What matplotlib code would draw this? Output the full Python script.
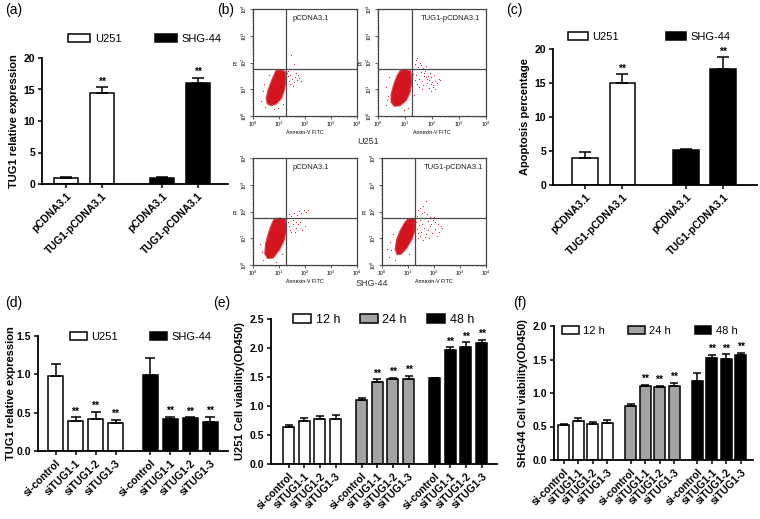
import numpy as np
import matplotlib
matplotlib.use('Agg')
import matplotlib.pyplot as plt
from matplotlib.patches import Polygon
from matplotlib.ticker import LogLocator, NullFormatter

plt.rcParams['font.family'] = ['Liberation Sans', 'DejaVu Sans']

# ---------------- data ----------------
# (a) TUG1 overexpression
a_labels = ['pCDNA3.1', 'TUG1-pCDNA3.1']
a_u251 = [1.0, 14.5]
a_u251_err = [0.15, 0.9]
a_shg44 = [1.0, 16.0]
a_shg44_err = [0.12, 0.9]
a_stars = [False, True]

# (c) apoptosis percentage
c_u251 = [4.0, 15.0]
c_u251_err = [0.8, 1.3]
c_shg44 = [5.2, 17.0]
c_shg44_err = [0.1, 1.8]

# (d) TUG1 knockdown
si_labels = ['si-control', 'siTUG1-1', 'siTUG1-2', 'siTUG1-3']
si_stars = [False, True, True, True]
d_u251 = [0.98, 0.39, 0.42, 0.36]
d_u251_err = [0.15, 0.05, 0.09, 0.05]
d_shg44 = [0.99, 0.42, 0.43, 0.38]
d_shg44_err = [0.22, 0.03, 0.01, 0.07]

# (e) U251 viability
e_12h = [0.64, 0.75, 0.77, 0.78]
e_12h_err = [0.03, 0.05, 0.05, 0.06]
e_24h = [1.11, 1.42, 1.46, 1.46]
e_24h_err = [0.02, 0.04, 0.03, 0.06]
e_48h = [1.48, 1.96, 2.02, 2.09]
e_48h_err = [0.01, 0.05, 0.08, 0.05]

# (f) SHG44 viability
f_12h = [0.52, 0.58, 0.53, 0.55]
f_12h_err = [0.02, 0.04, 0.03, 0.04]
f_24h = [0.81, 1.10, 1.09, 1.10]
f_24h_err = [0.03, 0.02, 0.02, 0.05]
f_48h = [1.18, 1.52, 1.51, 1.56]
f_48h_err = [0.12, 0.05, 0.07, 0.04]

# (b) flow cytometry, positions in decades (log10)
gate_x = 1.27
gate_y = 1.74
tl_core = [(0.88, 1.70), (1.08, 1.73), (1.25, 1.66), (1.27, 1.35), (1.22, 1.00), (1.10, 0.65),
           (0.90, 0.45), (0.70, 0.38), (0.55, 0.45), (0.50, 0.65), (0.58, 0.98), (0.72, 1.35)]
tl_dots_x = [1.33, 1.38, 1.44, 1.50, 1.56, 1.62, 1.68, 1.76, 1.84, 1.47, 1.58, 1.41, 1.72, 1.52, 1.64,
             0.30, 0.38, 0.95, 0.62, 1.30, 1.36, 0.45, 0.42, 0.80, 1.15]
tl_dots_y = [1.48, 1.32, 1.55, 1.40, 1.28, 1.45, 1.36, 1.42, 1.30, 2.27, 1.94, 1.18, 1.52, 1.12, 1.60,
             0.55, 0.95, 0.30, 1.55, 1.62, 1.70, 0.35, 1.20, 0.28, 0.45]
tr_core = [(0.83, 1.71), (1.02, 1.74), (1.22, 1.68), (1.25, 1.25), (1.18, 0.85), (1.05, 0.58),
           (0.82, 0.38), (0.60, 0.36), (0.48, 0.52), (0.48, 0.80), (0.58, 1.18), (0.70, 1.50)]
tr_dots_x = [1.36, 1.42, 1.48, 1.55, 1.60, 1.66, 1.72, 1.78, 1.85, 1.90, 1.95, 2.02, 2.10, 2.18, 2.25,
             1.40, 1.52, 1.63, 1.70, 1.80, 1.88, 1.98, 2.05, 2.12, 1.45, 1.58, 1.75, 1.92, 2.00, 1.38,
             1.50, 1.68, 1.83, 2.08, 2.20, 1.44, 1.62, 1.77, 1.95, 2.30, 0.30, 0.36, 0.28, 0.40, 0.95,
             1.10, 0.33, 1.30, 1.33]
tr_dots_y = [1.95, 2.10, 1.85, 2.00, 1.90, 1.78, 1.60, 1.45, 1.50, 1.35, 1.20, 1.10, 1.30, 1.25, 1.40,
             1.55, 1.40, 1.30, 1.48, 1.25, 1.05, 1.45, 1.15, 1.00, 1.20, 1.65, 1.70, 1.62, 1.28, 1.35,
             1.10, 1.15, 1.38, 1.52, 1.22, 2.15, 1.02, 1.88, 0.95, 1.33, 0.40, 0.75, 1.10, 1.45, 0.22,
             0.30, 0.58, 1.58, 0.80]
bl_core = [(0.80, 1.71), (1.02, 1.76), (1.25, 1.72), (1.29, 1.35), (1.20, 0.92), (1.03, 0.58),
           (0.78, 0.26), (0.56, 0.24), (0.45, 0.42), (0.48, 0.80), (0.60, 1.22), (0.70, 1.50)]
bl_dots_x = [1.35, 1.40, 1.46, 1.52, 1.58, 1.64, 1.70, 1.78, 1.86, 1.95, 2.05, 2.13, 1.43, 1.55,
             1.66, 1.74, 1.90, 2.00, 1.48, 1.60, 1.82, 1.38, 0.35, 0.28, 0.90, 0.40, 1.10]
bl_dots_y = [1.62, 1.45, 1.85, 1.70, 1.95, 1.60, 1.88, 2.02, 1.95, 2.07, 2.00, 2.05, 1.30, 1.52,
             1.40, 1.55, 1.30, 1.45, 1.24, 1.25, 1.62, 1.90, 0.50, 0.80, 0.12, 0.20, 0.40]
br_core = [(0.96, 1.70), (1.15, 1.75), (1.28, 1.72), (1.28, 1.31), (1.15, 0.95), (0.95, 0.62),
           (0.74, 0.40), (0.58, 0.38), (0.50, 0.58), (0.56, 0.95), (0.70, 1.30), (0.85, 1.55)]
br_dots_x = [1.30, 1.35, 1.40, 1.46, 1.52, 1.58, 1.64, 1.70, 1.78, 1.86, 1.95, 2.05, 2.15, 2.25,
             1.33, 1.42, 1.50, 1.60, 1.68, 1.75, 1.84, 1.92, 2.02, 2.10, 2.20, 2.30, 1.38, 1.48,
             1.56, 1.66, 1.80, 1.90, 2.00, 1.45, 1.62, 1.72, 1.55, 1.40, 0.25, 0.35, 0.30, 0.42,
             0.20, 0.50, 1.05]
br_dots_y = [1.60, 1.85, 2.05, 1.70, 1.95, 2.20, 1.75, 2.39, 1.65, 1.80, 1.70, 1.60, 1.55, 1.45,
             1.35, 1.50, 1.25, 1.40, 1.15, 1.30, 1.45, 1.20, 1.35, 1.10, 1.25, 1.40, 1.00, 1.08,
             0.93, 1.05, 1.00, 1.55, 1.78, 2.12, 2.00, 1.90, 1.55, 1.20, 0.30, 0.55, 0.85, 1.15,
             0.60, 0.20, 0.40]

# ---------------- layout ----------------
W, H = 760, 519
fig = plt.figure(figsize=(7.6, 5.19), dpi=100)
fig.patch.set_facecolor('white')


def px_rect(l, t, r, b):
    return [l / W, 1 - b / H, (r - l) / W, (b - t) / H]


def bar_panel(rect, series, errs, colors, names, ticklabels, stars, gap, width, xlim,
              ylim, yticks, yfmt, ylabel, cap, leg_xy, leg_kw, ylabelpad=3):
    ax = fig.add_axes(px_rect(*rect))
    n = len(ticklabels)
    pos_all, lab_all = [], []
    for g in range(len(series)):
        x = g * (n + gap) + np.arange(n)
        vals = np.array(series[g])
        err = np.array(errs[g])
        ax.bar(x, vals, width, color=colors[g], edgecolor='black', linewidth=1.1,
               label=names[g], zorder=2)
        ax.errorbar(x, vals, yerr=[np.zeros(n), err], fmt='none', ecolor='black',
                    elinewidth=1.1, capsize=cap, capthick=1.1, zorder=3)
        for xi, v, e, s in zip(x, vals, err, stars[g]):
            if s:
                ax.text(xi, v + e + ylim[1] * 0.005, '**', ha='center', va='bottom',
                        fontsize=7.5, fontweight='bold')
        pos_all += list(x)
        lab_all += ticklabels
    ax.set_xlim(*xlim)
    ax.set_ylim(*ylim)
    ax.set_yticks(yticks)
    ax.set_yticklabels([yfmt.format(t) for t in yticks], fontsize=7.5, fontweight='bold')
    ax.set_xticks(pos_all)
    ax.set_xticklabels(lab_all, rotation=45, ha='right', rotation_mode='anchor',
                       fontsize=7.5, fontweight='bold')
    for side in ['top', 'right']:
        ax.spines[side].set_visible(False)
    for side in ['left', 'bottom']:
        ax.spines[side].set_linewidth(1.3)
    ax.tick_params(direction='out', length=3, width=1.1, pad=2)
    ax.set_ylabel(ylabel, fontsize=8, fontweight='bold', labelpad=ylabelpad)
    ax.legend(loc='center left', bbox_to_anchor=(leg_xy[0] / W, 1 - leg_xy[1] / H),
              bbox_transform=fig.transFigure, ncol=len(series), frameon=False, borderpad=0,
              handletextpad=0.4, borderaxespad=0, **leg_kw)
    return ax


# (a)
bar_panel((42, 58, 228, 184), [a_u251, a_shg44], [a_u251_err, a_shg44_err], ['white', 'black'],
          ['U251', 'SHG-44'], a_labels, [a_stars, a_stars], 0.667, 0.69, (-0.667, 4.5),
          (0, 20), [0, 5, 10, 15, 20], '{:g}', 'TUG1 relative expression', 4.3, (68, 39),
          dict(fontsize=8, handlelength=2.0, handleheight=0.7, columnspacing=3.0))

# (c)
bar_panel((553, 49, 757, 185), [c_u251, c_shg44], [c_u251_err, c_shg44_err], ['white', 'black'],
          ['U251', 'SHG-44'], a_labels, [a_stars, a_stars], 0.69, 0.69, (-0.853, 4.59),
          (0, 20), [0, 5, 10, 15, 20], '{:g}', 'Apoptosis percentage', 4.3, (568, 37),
          dict(fontsize=8, handlelength=1.8, handleheight=0.7, columnspacing=4.2))

# (d)
bar_panel((38, 336, 228, 451), [d_u251, d_shg44], [d_u251_err, d_shg44_err], ['white', 'black'],
          ['U251', 'SHG-44'], si_labels, [si_stars, si_stars], 0.725, 0.75, (-0.875, 8.625),
          (0, 1.5), [0, 0.5, 1.0, 1.5], '{:.1f}', 'TUG1 relative expression', 3.4, (70, 337),
          dict(fontsize=8, handlelength=1.5, handleheight=0.7, columnspacing=2.9), ylabelpad=0.5)

# (e)
no_stars = [False] * 4
bar_panel((271, 319, 497, 464), [e_12h, e_24h, e_48h], [e_12h_err, e_24h_err, e_48h_err],
          ['white', '#a3a3a3', 'black'], ['12 h', '24 h', '48 h'], si_labels,
          [no_stars, si_stars, si_stars], 0.66, 0.70, (-1.12, 13.3), (0, 2.5),
          [0, 0.5, 1.0, 1.5, 2.0, 2.5], '{:.1f}', 'U251 Cell viability(OD450)', 2.8, (293, 320),
          dict(fontsize=9, handlelength=1.4, handleheight=0.7, columnspacing=1.6))

# (f)
bar_panel((554, 326, 753, 460), [f_12h, f_24h, f_48h], [f_12h_err, f_24h_err, f_48h_err],
          ['white', '#a3a3a3', 'black'], ['12 h', '24 h', '48 h'], si_labels,
          [no_stars, si_stars, si_stars], 0.62, 0.76, (-0.66, 13.07), (0, 2.0),
          [0, 0.5, 1.0, 1.5, 2.0], '{:.1f}', 'SHG44 Cell viability(OD450)', 2.8, (562, 331),
          dict(fontsize=8, handlelength=1.5, handleheight=0.7, columnspacing=2.1))

# (b) flow cytometry
red = '#d4151f'


def flow_panel(rect, core, dots_x, dots_y, title, title_x):
    ax = fig.add_axes(px_rect(*rect))
    ax.set_xscale('log')
    ax.set_yscale('log')
    ax.set_xlim(1, 1e4)
    ax.set_ylim(1, 1e4)
    ax.add_patch(Polygon(10 ** np.array(core), closed=True, facecolor=red,
                         edgecolor='#e04a52', linewidth=0.7, zorder=2))
    ax.scatter(10 ** np.array(dots_x), 10 ** np.array(dots_y), s=0.7, color=red,
               linewidths=0, zorder=2)
    ax.axvline(10 ** gate_x, color='#4a4a4a', lw=0.9, zorder=3)
    ax.axhline(10 ** gate_y, color='#4a4a4a', lw=0.9, zorder=3)
    ax.text(title_x, 0.91, title, transform=ax.transAxes, fontsize=5.5, color='#222222',
            va='center', ha='left')
    for sp in ax.spines.values():
        sp.set_color('#444444')
        sp.set_linewidth(0.9)
    ax.xaxis.set_major_locator(LogLocator(base=10, numticks=6))
    ax.yaxis.set_major_locator(LogLocator(base=10, numticks=6))
    ax.tick_params(which='major', length=2, width=0.6, labelsize=3.8, pad=1, color='#444444')
    ax.tick_params(which='minor', length=1, width=0.4, color='#444444')
    ax.xaxis.set_minor_formatter(NullFormatter())
    ax.yaxis.set_minor_formatter(NullFormatter())
    for lab in ax.get_yticklabels():
        lab.set_rotation(90)
        lab.set_va('center')
    ax.set_xlabel('Annexin-V FITC', fontsize=3.8, labelpad=0.5)
    ax.set_ylabel('PI', fontsize=3.8, labelpad=0.5)
    return ax


flow_panel((253, 9, 357, 116), tl_core, tl_dots_x, tl_dots_y, 'pCDNA3.1', 0.38)
flow_panel((378, 9, 486, 116), tr_core, tr_dots_x, tr_dots_y, 'TUG1-pCDNA3.1', 0.40)
flow_panel((253, 158, 357, 265), bl_core, bl_dots_x, bl_dots_y, 'pCDNA3.1', 0.38)
flow_panel((382, 158, 486, 265), br_core, br_dots_x, br_dots_y, 'TUG1-pCDNA3.1', 0.40)

fig.text(368 / W, 1 - 142 / H, 'U251', fontsize=6.5, ha='center', va='center', color='#333333')
fig.text(372 / W, 1 - 283 / H, 'SHG-44', fontsize=6.5, ha='center', va='center', color='#333333')

# panel letters
for lab, x, y in [('(a)', 5, 10), ('(b)', 217, 10), ('(c)', 506, 10),
                  ('(d)', 5, 303), ('(e)', 213, 303), ('(f)', 513, 303)]:
    fig.text(x / W, 1 - y / H, lab, fontsize=10, ha='left', va='center')

fig.savefig('out.png', dpi=100)
